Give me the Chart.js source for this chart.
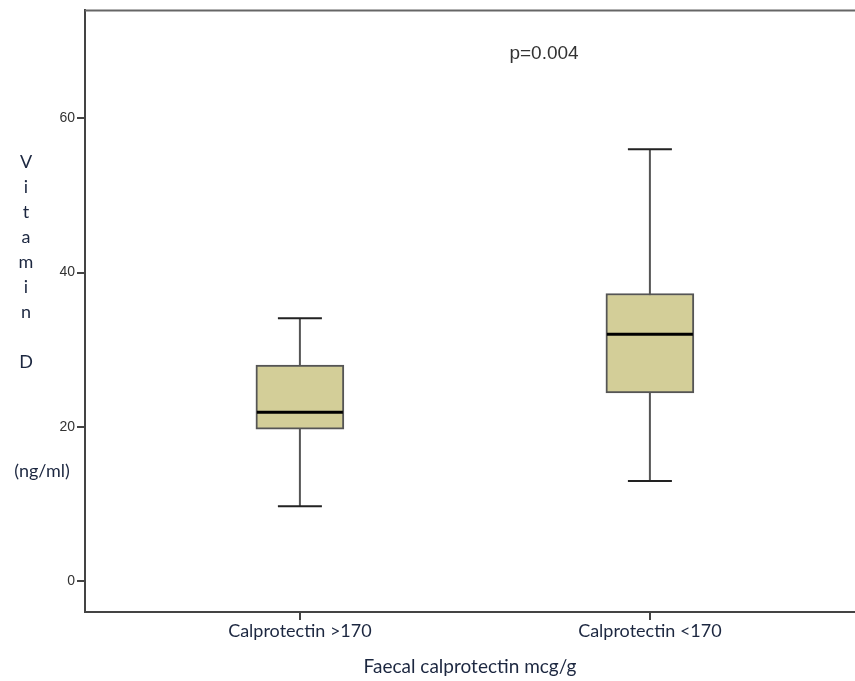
<!DOCTYPE html>
<html>
<head>
<meta charset="utf-8">
<script src="https://cdn.jsdelivr.net/npm/chart.js@4"></script>
<style>
  html, body { margin: 0; padding: 0; background: #fff; }
  #wrap { width: 855px; height: 681px; }
</style>
</head>
<body>
<div id="wrap"><canvas id="boxChart"></canvas></div>
<script>
// Datos del gráfico
const categories = ['Calprotectin >170', 'Calprotectin <170'];
const positions = [1, 2];
const whiskerLow = [9.7, 13.0];
const q1 = [19.7, 24.4];
const median = [21.9, 32.0];
const q3 = [28.0, 37.3];
const whiskerHigh = [34.1, 56.0];
const yTicks = [0, 20, 40, 60];

const axisColor = '#444';
const textColor = '#333';
const labelColor = '#1c2740';
const labelFont = 'Lato, "Open Sans", sans-serif';

// Bigotes (antes de las cajas) y medianas (después)
const boxPlotPlugin = {
    id: 'boxPlot',
    beforeDatasetsDraw(chart) {
        const ctx = chart.ctx;
        const y = chart.scales.y;
        const meta = chart.getDatasetMeta(0);
        ctx.save();
        meta.data.forEach((bar, i) => {
            const cap = bar.width / 4;
            const top = y.getPixelForValue(whiskerHigh[i]);
            const bot = y.getPixelForValue(whiskerLow[i]);
            ctx.strokeStyle = '#555';
            ctx.lineWidth = 2;
            ctx.beginPath();
            ctx.moveTo(bar.x, top);
            ctx.lineTo(bar.x, bot);
            ctx.stroke();
            ctx.strokeStyle = '#222';
            ctx.beginPath();
            ctx.moveTo(bar.x - cap, top);
            ctx.lineTo(bar.x + cap, top);
            ctx.moveTo(bar.x - cap, bot);
            ctx.lineTo(bar.x + cap, bot);
            ctx.stroke();
        });
        ctx.restore();
    },
    afterDatasetsDraw(chart) {
        const ctx = chart.ctx;
        const y = chart.scales.y;
        const meta = chart.getDatasetMeta(0);
        ctx.save();
        ctx.strokeStyle = '#000';
        ctx.lineWidth = 3;
        meta.data.forEach((bar, i) => {
            const m = y.getPixelForValue(median[i]);
            ctx.beginPath();
            ctx.moveTo(bar.x - bar.width / 2 + 1, m);
            ctx.lineTo(bar.x + bar.width / 2 - 1, m);
            ctx.stroke();
        });
        ctx.restore();
    },
    afterDraw(chart) {
        const ctx = chart.ctx;
        const area = chart.chartArea;
        ctx.save();
        // borde superior del marco
        ctx.strokeStyle = '#666';
        ctx.lineWidth = 2;
        ctx.beginPath();
        ctx.moveTo(area.left, area.top);
        ctx.lineTo(chart.width, area.top);
        ctx.stroke();

        // valor p
        ctx.fillStyle = textColor;
        ctx.font = '19px "Liberation Sans", Arial, sans-serif';
        ctx.textAlign = 'center';
        ctx.textBaseline = 'middle';
        ctx.fillText('p=0.004', 544, 54);

        // título vertical del eje Y
        ctx.fillStyle = labelColor;
        ctx.font = '18px ' + labelFont;
        const letters = [['V', 162], ['i', 187], ['t', 212], ['a', 237], ['m', 262], ['i', 287], ['n', 312], ['D', 362]];
        letters.forEach(([ch, py]) => ctx.fillText(ch, 26, py));
        ctx.fillText('(ng/ml)', 42, 471);
        ctx.restore();
    }
};

new Chart(document.getElementById('boxChart'), {
    type: 'bar',
    data: {
        datasets: [{
            data: positions.map((p, i) => ({ x: p, y: [q1[i], q3[i]] })),
            backgroundColor: '#d3ce98',
            borderColor: '#555',
            borderWidth: 2,
            borderSkipped: false,
            barThickness: 88
        }]
    },
    options: {
        responsive: true,
        maintainAspectRatio: false,
        animation: false,
        layout: { padding: { top: 6, left: 0, right: 0, bottom: 0 } },
        plugins: {
            legend: { display: false },
            tooltip: { enabled: false }
        },
        scales: {
            x: {
                type: 'linear',
                offset: false,
                min: 0.386,
                max: 2.586,
                afterBuildTicks: (scale) => { scale.ticks = positions.map(v => ({ value: v })); },
                afterFit: (scale) => { scale.height = 69; },
                ticks: {
                    color: labelColor,
                    font: { family: labelFont, size: 18 },
                    padding: 0,
                    maxRotation: 0,
                    callback: (v) => categories[positions.indexOf(v)]
                },
                grid: { offset: false, drawOnChartArea: false, drawTicks: true, tickLength: 8, color: axisColor, lineWidth: 2 },
                border: { display: true, color: axisColor, width: 2 },
                title: {
                    display: true,
                    text: 'Faecal calprotectin mcg/g',
                    color: labelColor,
                    font: { family: labelFont, size: 19 },
                    padding: { top: 0, bottom: 3 }
                }
            },
            y: {
                min: -4,
                max: 74,
                afterBuildTicks: (scale) => { scale.ticks = yTicks.map(v => ({ value: v })); },
                afterFit: (scale) => { scale.width = 85; },
                ticks: {
                    color: textColor,
                    font: { family: '"Liberation Sans", Arial, sans-serif', size: 14 },
                    padding: 2
                },
                grid: { drawOnChartArea: false, drawTicks: true, tickLength: 8, color: axisColor, lineWidth: 2 },
                border: { display: true, color: axisColor, width: 2 }
            }
        }
    },
    plugins: [boxPlotPlugin]
});
</script>
</body>
</html>
